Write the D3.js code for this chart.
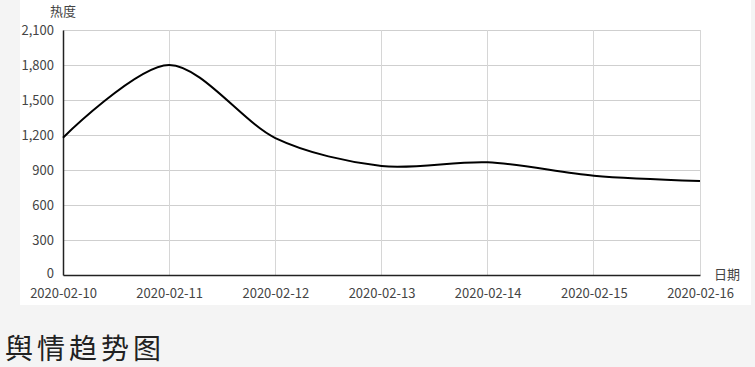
<!DOCTYPE html>
<html>
<head>
<meta charset="utf-8">
<script src="https://cdn.jsdelivr.net/npm/d3@7"></script>
<style>
  html, body { margin: 0; padding: 0; background: #f4f4f4; }
  #chart { position: absolute; left: 0; top: 0; }
</style>
</head>
<body>
<div id="chart"></div>
<script>
const dates = ['2020-02-10', '2020-02-11', '2020-02-12', '2020-02-13', '2020-02-14', '2020-02-15', '2020-02-16'];
const heat = [1177, 1800, 1174, 934, 966, 851, 806];
const yTicks = [0, 300, 600, 900, 1200, 1500, 1800, 2100];
const title = '舆情趋势图';

const W = 755, H = 367;
const margin = { top: 30, left: 63 },
    width = 700 - margin.left,
    height = 275 - margin.top;

const font = '"Noto Sans CJK SC", "Noto Sans", sans-serif';

const root = d3.select('#chart')
    .append('svg')
    .attr('width', W)
    .attr('height', H);

// white panel behind the chart
root.append('rect')
    .attr('x', 20).attr('y', 0)
    .attr('width', 731).attr('height', 305)
    .attr('fill', '#fff');

const svg = root.append('g')
    .attr('transform', 'translate(' + margin.left + ',' + margin.top + ')');

let x = d3.scalePoint()
    .domain(dates)
    .range([0, width]);

let y = d3.scaleLinear()
    .domain([0, 2100])
    .range([height, 0]);

// grid
svg.append('g')
    .selectAll('line')
    .data(yTicks.filter(d => d > 0))
    .join('line')
    .attr('x1', 0).attr('x2', width)
    .attr('y1', d => y(d)).attr('y2', d => y(d))
    .attr('stroke', '#cfcfcf')
    .attr('shape-rendering', 'crispEdges');

svg.append('g')
    .selectAll('line')
    .data(dates.slice(1))
    .join('line')
    .attr('x1', d => x(d)).attr('x2', d => x(d))
    .attr('y1', 0).attr('y2', height)
    .attr('stroke', '#d6d6d6')
    .attr('shape-rendering', 'crispEdges');

// axes
const xAxis = svg.append('g')
    .attr('transform', 'translate(0,' + height + ')')
    .call(d3.axisBottom(x).tickSize(0).tickPadding(14));

const yAxis = svg.append('g')
    .call(d3.axisLeft(y).tickValues(yTicks).tickFormat(d3.format(',')).tickSize(0).tickPadding(9));

[xAxis, yAxis].forEach(a => {
    a.select('.domain')
        .attr('stroke', '#222')
        .attr('stroke-width', 1.5);
    a.selectAll('text')
        .attr('fill', '#444')
        .style('font-family', font)
        .style('font-size', '13px');
});
// keep the zero label clear of the first date
yAxis.selectAll('text').filter(d => d === 0).attr('dy', '0.2em');

// line
svg.append('path')
    .datum(heat)
    .attr('fill', 'none')
    .attr('stroke', '#000')
    .attr('stroke-width', 2)
    .attr('d', d3.line()
        .x((d, i) => x(dates[i]))
        .y(d => y(d))
        .curve(d3.curveCardinal.tension(0.1)));

// axis names
root.append('text')
    .attr('x', 50).attr('y', 16)
    .attr('fill', '#444')
    .style('font-family', font)
    .style('font-size', '13px')
    .text('热度');

root.append('text')
    .attr('x', 714).attr('y', 279)
    .attr('fill', '#444')
    .style('font-family', font)
    .style('font-size', '13px')
    .text('日期');

// title
root.append('text')
    .attr('x', 5).attr('y', 359)
    .attr('fill', '#222')
    .style('font-family', '"Noto Sans CJK SC", serif')
    .style('font-size', '28px')
    .style('letter-spacing', '4px')
    .text(title);
</script>
</body>
</html>
